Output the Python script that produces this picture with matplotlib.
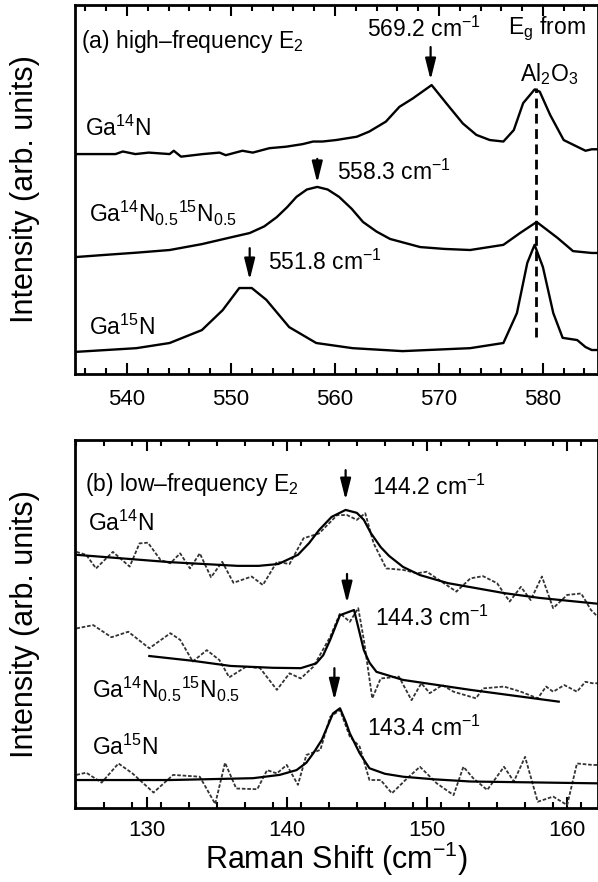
import matplotlib
matplotlib.use('Agg')
import matplotlib.pyplot as plt

plt.rcParams['font.family'] = ['Liberation Sans', 'DejaVu Sans']
plt.rcParams['mathtext.fontset'] = 'custom'
plt.rcParams['mathtext.rm'] = 'Liberation Sans'
plt.rcParams['mathtext.it'] = 'Liberation Sans:italic'
plt.rcParams['mathtext.bf'] = 'Liberation Sans:bold'

# (a) high-frequency E2 spectra, Raman shift (cm-1) / intensity (arb.)
hf_x_14 = [535.1, 538.9, 539.6, 540.8, 542.1, 544.1, 544.5, 545.2, 547.3, 548.9,
           549.5, 551.1, 552.1, 553.7, 555.3, 556.9, 557.9, 558.8, 560.1, 562.1,
           563.3, 564.9, 566.2, 567.5, 569.3, 570.7, 572.3, 573.6, 574.9, 576.2,
           577.2, 578.1, 579.2, 579.7, 580.7, 582.0, 583.3, 584.1, 584.7, 585.3]
hf_y_14 = [59.6, 59.6, 60.3, 59.6, 60.0, 59.6, 60.5, 58.9, 59.6, 60.0,
           59.3, 60.5, 60.0, 61.2, 61.6, 62.3, 63.0, 63.0, 63.4, 64.3,
           65.7, 68.4, 72.4, 74.7, 78.3, 73.4, 67.9, 64.8, 63.4, 63.0,
           66.1, 73.4, 77.1, 76.5, 70.2, 63.4, 61.6, 60.5, 60.9, 60.9]

hf_x_mix = [535.1, 538.0, 541.0, 544.1, 547.2, 550.1, 551.8, 553.2, 554.4, 555.4,
            556.3, 557.3, 558.3, 559.3, 560.4, 561.6, 562.7, 564.0, 565.3, 568.2,
            570.5, 573.0, 576.2, 577.8, 579.4, 581.4, 582.9, 584.7, 585.3]
hf_y_mix = [31.7, 32.3, 32.9, 33.6, 35.2, 37.1, 38.2, 40.0, 42.5, 45.2,
            48.0, 50.0, 50.7, 50.0, 48.0, 44.8, 41.2, 38.6, 36.6, 34.4,
            33.9, 33.6, 35.0, 38.2, 41.2, 36.9, 33.3, 32.8, 32.8]

hf_x_15 = [535.1, 540.9, 544.1, 547.2, 549.2, 550.8, 552.0, 553.4, 555.6, 558.2,
           561.7, 566.5, 573.0, 576.2, 577.5, 578.5, 579.2, 580.0, 581.0, 581.9,
           583.3, 584.1, 584.7, 585.3]
hf_y_15 = [6.0, 7.0, 8.4, 11.9, 17.3, 23.3, 23.3, 20.1, 12.7, 8.4,
           7.0, 6.2, 7.0, 8.4, 16.5, 30.1, 35.0, 29.0, 16.5, 9.8,
           9.2, 7.3, 6.5, 6.5]

# (b) low-frequency E2: measured points (dashed) and fits (solid)
lf_x_14 = [125.0, 125.7, 126.4, 127.6, 128.8, 129.5, 130.1, 131.0, 131.7, 132.4,
           133.1, 133.8, 134.6, 135.4, 136.2, 137.5, 138.3, 139.3, 140.2, 141.2,
           142.3, 143.6, 144.3, 145.0, 145.6, 146.2, 147.1, 148.3, 149.3, 150.0,
           151.2, 152.1, 153.1, 154.0, 155.0, 155.9, 156.7, 157.4, 158.2, 159.0,
           160.0, 161.0, 161.7, 162.2]
lf_y_14 = [69.6, 68.8, 65.1, 69.6, 65.6, 71.9, 72.1, 67.4, 66.5, 69.2,
           65.1, 69.2, 62.7, 66.9, 61.2, 62.9, 60.6, 66.9, 66.3, 73.3,
           74.6, 79.6, 79.6, 78.3, 80.1, 71.9, 65.1, 64.7, 63.8, 64.2,
           61.1, 58.8, 62.4, 63.0, 61.1, 56.1, 60.1, 56.5, 62.9, 54.3,
           57.9, 58.3, 53.8, 51.9]
fit_x_14 = [125.0, 131.7, 136.5, 138.0, 139.4, 140.8, 141.6, 142.3, 143.2, 144.2,
            145.0, 145.5, 146.0, 146.7, 147.3, 148.3, 149.5, 151.5, 155.5, 158.0,
            162.2]
fit_y_14 = [68.8, 66.8, 65.8, 65.8, 66.3, 68.8, 72.0, 75.5, 79.1, 81.0,
            80.2, 78.3, 74.7, 70.9, 68.5, 65.5, 63.3, 61.1, 58.4, 57.1,
            55.5]

lf_x_mix = [125.0, 126.2, 127.5, 128.7, 130.2, 131.7, 132.4, 133.3, 134.3, 135.2,
            135.9, 137.1, 138.1, 139.3, 140.2, 141.0, 141.9, 143.1, 143.8, 144.5,
            145.1, 145.5, 146.1, 146.7, 148.0, 148.9, 149.6, 150.2, 151.1, 151.9,
            153.5, 154.0, 155.5, 156.7, 157.9, 158.5, 159.0, 159.8, 160.7, 161.3,
            161.8, 162.2]
lf_y_mix = [48.8, 49.7, 46.4, 47.9, 43.4, 47.5, 45.7, 39.8, 42.9, 40.2,
            35.5, 38.4, 38.0, 32.1, 36.6, 35.2, 38.4, 46.5, 52.9, 50.6,
            54.3, 45.7, 29.8, 35.2, 35.7, 29.3, 33.9, 31.2, 33.4, 31.6,
            29.8, 32.5, 33.0, 31.6, 29.8, 33.0, 31.6, 33.4, 31.6, 34.3,
            33.9, 33.9]
fit_x_mix = [130.2, 133.3, 136.0, 139.0, 141.0, 142.1, 142.6, 143.1, 143.8, 144.8,
             145.5, 145.9, 146.4, 148.3, 153.1, 159.4]
fit_y_mix = [41.3, 40.0, 38.6, 38.1, 38.0, 39.3, 41.5, 45.7, 52.4, 53.8,
             42.9, 39.5, 37.0, 34.8, 32.1, 28.9]

lf_x_15 = [125.0, 125.7, 126.8, 128.0, 129.0, 130.5, 131.9, 133.8, 134.9, 135.6,
           136.4, 137.9, 138.6, 139.3, 140.0, 140.8, 141.4, 142.4, 143.1, 143.8,
           144.5, 145.2, 145.9, 146.7, 147.5, 148.6, 149.5, 150.7, 151.9, 152.6,
           153.3, 154.3, 155.5, 156.2, 157.0, 157.9, 159.0, 160.0, 160.7, 161.8,
           162.2]
lf_y_15 = [9.0, 9.6, 6.9, 12.1, 9.4, 4.2, 9.0, 8.5, 1.1, 12.3,
           5.3, 5.1, 10.3, 9.4, 11.7, 6.3, 14.4, 15.8, 24.8, 26.6,
           19.4, 16.7, 7.6, 7.6, 4.0, 8.1, 11.2, 6.7, 3.5, 11.2,
           8.1, 4.9, 11.2, 7.2, 13.9, 1.7, 3.1, 0.8, 12.1, 11.7,
           11.7]
fit_x_15 = [125.0, 131.7, 137.6, 139.5, 140.7, 141.4, 141.9, 142.5, 142.9, 143.3,
            143.8, 144.2, 144.5, 145.2, 145.9, 147.0, 148.3, 150.5, 153.1, 162.2]
fit_y_15 = [7.6, 7.6, 8.1, 9.0, 10.3, 12.3, 14.9, 18.5, 22.1, 25.7,
            27.1, 23.5, 20.3, 14.9, 10.8, 9.3, 8.5, 7.8, 7.2, 6.7]

W, H = 598, 882
fig = plt.figure(figsize=(W / 100, H / 100), dpi=100)
ax1 = fig.add_axes([75 / W, 1 - 374 / H, 523 / W, 369 / H])
ax2 = fig.add_axes([75 / W, 1 - 808 / H, 523 / W, 368 / H])

TXT = 16.5
arrow = dict(arrowstyle='-|>,head_width=0.2,head_length=0.8', color='k',
             lw=1.6, shrinkA=0, shrinkB=0, mutation_scale=16)


def style(ax, xlim, ticks):
    ax.set_xlim(*xlim)
    ax.set_ylim(0, 100)
    ax.set_xticks(ticks)
    ax.set_xticks(range(int(xlim[0]) + 1, int(xlim[1]) + 1, 2), minor=True)
    ax.set_yticks([])
    ax.tick_params(axis='x', which='both', direction='in', top=True, labelsize=16, width=1.5)
    ax.tick_params(axis='x', which='major', length=8, pad=11)
    ax.tick_params(axis='x', which='minor', length=4)
    for s in ax.spines.values():
        s.set_linewidth(2)
    ax.set_ylabel('Intensity (arb. units)', fontsize=22)
    ax.yaxis.set_label_coords(-0.066, 0.5)


# (a)
for xs, ys in [(hf_x_14, hf_y_14), (hf_x_mix, hf_y_mix), (hf_x_15, hf_y_15)]:
    ax1.plot(xs, ys, color='k', lw=1.7)
ax1.plot([579.3, 579.3], [10.0, 77.5], color='k', lw=2, ls=(0, (3.5, 2)))
style(ax1, (535, 585.3), [540, 550, 560, 570, 580])

ax1.text(535.6, 90.0, '(a) high\u2013frequency E$_2$', fontsize=TXT, va='center')
ax1.text(563.1, 93.5, '569.2 cm$^{-1}$', fontsize=TXT, va='center')
ax1.annotate('', xy=(569.2, 79.7), xytext=(569.2, 88.6), arrowprops=arrow)
ax1.text(576.6, 93.5, 'E$_\\mathrm{g}$ from', fontsize=TXT, va='center')
ax1.text(577.8, 81.3, 'Al$_2$O$_3$', fontsize=TXT, va='center')
ax1.text(536.0, 66.7, 'Ga$^{14}$N', fontsize=TXT, va='center')
ax1.annotate('', xy=(558.3, 51.8), xytext=(558.3, 58.3), arrowprops=arrow)
ax1.text(560.2, 54.7, '558.3 cm$^{-1}$', fontsize=TXT, va='center')
ax1.text(536.3, 43.6, 'Ga$^{14}$N$_{0.5}{}^{15}$N$_{0.5}$', fontsize=TXT, va='center')
ax1.annotate('', xy=(551.8, 25.5), xytext=(551.8, 34.1), arrowprops=arrow)
ax1.text(553.6, 30.4, '551.8 cm$^{-1}$', fontsize=TXT, va='center')
ax1.text(536.3, 12.7, 'Ga$^{15}$N', fontsize=TXT, va='center')

# (b)
for xs, ys in [(lf_x_14, lf_y_14), (lf_x_mix, lf_y_mix), (lf_x_15, lf_y_15)]:
    ax2.plot(xs, ys, color='#333333', lw=1.3, ls=(0, (2, 1)))
for xs, ys in [(fit_x_14, fit_y_14), (fit_x_mix, fit_y_mix), (fit_x_15, fit_y_15)]:
    ax2.plot(xs, ys, color='k', lw=1.6)
style(ax2, (124.9, 162.2), [130, 140, 150, 160])
ax2.tick_params(axis='x', which='major', pad=9)
ax2.set_xlabel('Raman Shift (cm$^{-1}$)', fontsize=22, labelpad=-1)

ax2.text(125.6, 87.8, '(b) low\u2013frequency E$_2$', fontsize=TXT, va='center')
ax2.annotate('', xy=(144.2, 83.7), xytext=(144.2, 91.8), arrowprops=arrow)
ax2.text(146.1, 87.2, '144.2 cm$^{-1}$', fontsize=TXT, va='center')
ax2.text(125.8, 77.4, 'Ga$^{14}$N', fontsize=TXT, va='center')
ax2.annotate('', xy=(144.3, 55.7), xytext=(144.3, 63.6), arrowprops=arrow)
ax2.text(146.3, 51.6, '144.3 cm$^{-1}$', fontsize=TXT, va='center')
ax2.text(126.1, 32.1, 'Ga$^{14}$N$_{0.5}{}^{15}$N$_{0.5}$', fontsize=TXT, va='center')
ax2.annotate('', xy=(143.4, 29.3), xytext=(143.4, 38.0), arrowprops=arrow)
ax2.text(145.7, 21.7, '143.4 cm$^{-1}$', fontsize=TXT, va='center')
ax2.text(126.1, 16.6, 'Ga$^{15}$N', fontsize=TXT, va='center')

fig.savefig('out.png', dpi=100)
